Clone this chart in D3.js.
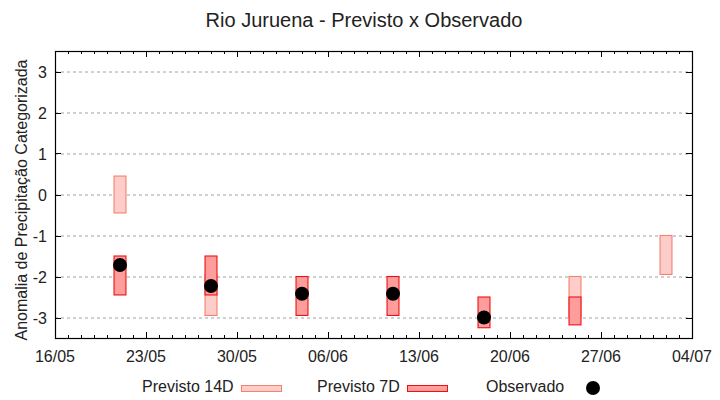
<!DOCTYPE html>
<html><head><meta charset="utf-8">
<script src="https://cdn.jsdelivr.net/npm/d3@7"></script>
<style>body{margin:0;background:#fff}svg{display:block;font-family:"Liberation Sans",Arial,sans-serif}</style>
</head><body><svg id="c" width="720" height="400"></svg>
<script>
const dates = ["2025-05-21","2025-05-28","2025-06-04","2025-06-11","2025-06-18","2025-06-25","2025-07-02"];
const prev14Low  = [-0.45, -2.95, null, null, null, -3.0, -1.95];
const prev14High = [ 0.45, -1.95, null, null, null, -2.0, -1.0];
const prev7Low   = [-2.45, -2.45, -2.95, -2.95, -3.25, -3.18, null];
const prev7High  = [-1.5, -1.5, -2.0, -2.0, -2.5, -2.5, null];
const observed   = [-1.72, -2.23, -2.42, -2.42, -3.0, null, null];
const yTicks = [-3,-2,-1,0,1,2,3];
const xTickLabels = ["16/05","23/05","30/05","06/06","13/06","20/06","27/06","04/07"];

const parse = d3.timeParse("%Y-%m-%d");
const svg = d3.select("#c");
const L=55, R=692, T=51, B=338;
const x = d3.scaleTime().domain([parse("2025-05-16"), parse("2025-07-04")]).range([L,R]);
const y = d3.scaleLinear().domain([-3.5,3.5]).range([B,T]);
const dayW = x(parse("2025-05-17")) - x(parse("2025-05-16"));
const bw = dayW*0.92;

// grid
svg.append("g").selectAll("line").data(yTicks).join("line")
  .attr("x1",L).attr("x2",R).attr("y1",d=>y(d)+0.5).attr("y2",d=>y(d)+0.5)
  .attr("stroke","#a0a0a0").attr("stroke-dasharray","3,3");

const rows = dates.map((d,i)=>({d:parse(d), l14:prev14Low[i], h14:prev14High[i], l7:prev7Low[i], h7:prev7High[i], o:observed[i]}));
svg.append("g").selectAll("rect").data(rows.filter(r=>r.l14!=null)).join("rect")
  .attr("x",r=>x(r.d)-bw/2).attr("width",bw)
  .attr("y",r=>y(r.h14)).attr("height",r=>y(r.l14)-y(r.h14))
  .attr("fill","#ffcdc9").attr("stroke","#f2826f").attr("stroke-width",1.1);
svg.append("g").selectAll("rect").data(rows.filter(r=>r.l7!=null)).join("rect")
  .attr("x",r=>x(r.d)-bw/2).attr("width",bw)
  .attr("y",r=>y(r.h7)).attr("height",r=>y(r.l7)-y(r.h7))
  .attr("fill","#ff9c9c").attr("stroke","#ee1111").attr("stroke-width",1.1);
svg.append("g").selectAll("circle").data(rows.filter(r=>r.o!=null)).join("circle")
  .attr("cx",r=>x(r.d)).attr("cy",r=>y(r.o)).attr("r",7).attr("fill","#000");

// axes
const weekTicks = xTickLabels.map((t,i)=>d3.timeDay.offset(parse("2025-05-16"), i*7));
const days = d3.timeDay.range(parse("2025-05-16"), parse("2025-07-05"));
const ax = svg.append("g").attr("stroke","#000");
ax.append("rect").attr("x",L+0.5).attr("y",T+0.5).attr("width",R-L).attr("height",B-T).attr("fill","none").attr("stroke","#000").attr("stroke-width",1.2);
days.forEach(d=>{
  const isMaj = weekTicks.some(w=>+w===+d);
  const len = isMaj?6:3;
  const xx = Math.round(x(d))+0.5;
  ax.append("line").attr("x1",xx).attr("x2",xx).attr("y1",B).attr("y2",B-len);
  ax.append("line").attr("x1",xx).attr("x2",xx).attr("y1",T).attr("y2",T+len);
});
yTicks.forEach(v=>{
  const yy=Math.round(y(v))+0.5;
  ax.append("line").attr("x1",L).attr("x2",L+6).attr("y1",yy).attr("y2",yy);
  ax.append("line").attr("x1",R).attr("x2",R-6).attr("y1",yy).attr("y2",yy);
});
svg.append("g").selectAll("text").data(weekTicks).join("text")
  .attr("x",d=>x(d)).attr("y",362).attr("text-anchor","middle").attr("font-size",16).attr("fill","#222")
  .text((d,i)=>xTickLabels[i]);
svg.append("g").selectAll("text").data(yTicks).join("text")
  .attr("x",47).attr("y",d=>y(d)+6).attr("text-anchor","end").attr("font-size",16).attr("fill","#222")
  .text(d=>d);

svg.append("text").attr("x",364).attr("y",27).attr("text-anchor","middle").attr("font-size",20).attr("fill","#222")
  .text("Rio Juruena - Previsto x Observado");
svg.append("text").attr("transform","translate(27,200) rotate(-90)").attr("text-anchor","middle").attr("font-size",16).attr("fill","#222")
  .text("Anomalia de Precipitação Categorizada");

// legend
const lg = svg.append("g").attr("font-size",16).attr("fill","#222");
lg.append("text").attr("x",142).attr("y",392).text("Previsto 14D");
lg.append("rect").attr("x",241.5).attr("y",385.5).attr("width",40).attr("height",6).attr("fill","#ffcdc9").attr("stroke","#f2826f");
lg.append("text").attr("x",317).attr("y",392).text("Previsto 7D");
lg.append("rect").attr("x",407.5).attr("y",385.5).attr("width",40).attr("height",6).attr("fill","#ff9c9c").attr("stroke","#ee1111");
lg.append("text").attr("x",486).attr("y",392).text("Observado");
lg.append("circle").attr("cx",593).attr("cy",388).attr("r",7).attr("fill","#000");
</script></body></html>
